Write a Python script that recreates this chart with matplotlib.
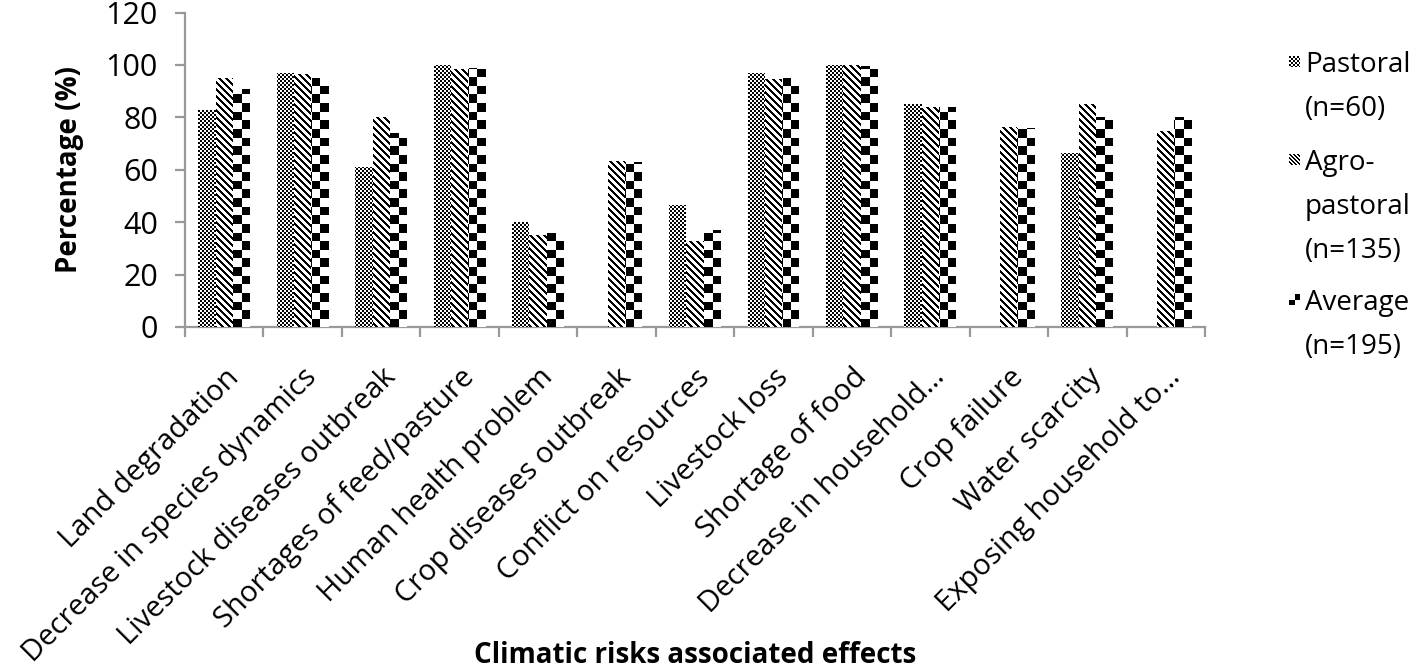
import numpy as np
import matplotlib
matplotlib.use("Agg")
import matplotlib.pyplot as plt
import matplotlib.transforms as mtransforms
from matplotlib.path import Path

plt.rcParams['font.family'] = ['Open Sans', 'DejaVu Sans']

categories = ["Land degradation", "Decrease in species dynamics",
              "Livestock diseases outbreak", "Shortages of feed/pasture",
              "Human health problem", "Crop diseases outbreak",
              "Conflict on resources", "Livestock loss", "Shortage of food",
              "Decrease in household\u2026", "Crop failure", "Water scarcity",
              "Exposing household to\u2026"]
pastoral = [83, 97, 61, 100, 40, 0, 46.7, 97, 100, 85, 0, 66.3, 0]
agro = [95, 96.5, 80, 98.5, 35, 63.5, 33, 94.5, 100, 84, 76.2, 85.2, 75]
average = [91, 95, 74, 99, 36, 63, 37, 95, 99.5, 84, 76, 80, 80.3]
series_labels = ["Pastoral\n(n=60)", "Agro-\npastoral\n(n=135)", "Average\n(n=195)"]
yticks = [0, 20, 40, 60, 80, 100, 120]

W, H = 1417, 670
FS = 20
fig = plt.figure(figsize=(W / 100, H / 100), dpi=100)
ax = fig.add_axes([185 / W, 1 - 327 / H, 1020 / W, 314.4 / H])

x = np.arange(len(categories))
bw = 0.22
b1 = ax.bar(x - bw, pastoral, bw, color='white', lw=0)
b2 = ax.bar(x, agro, bw, color='white', lw=0)
b3 = ax.bar(x + bw, average, bw, color='white', lw=0)

ax.set_xlim(-0.5, len(categories) - 0.5)
ax.set_ylim(0, 120)
ax.set_yticks(yticks)
ax.set_xticks(np.arange(-0.5, len(categories), 1))
ax.set_xticklabels([])
ax.set_xticks(x, minor=True)
ax.set_xticklabels(categories, minor=True, rotation=45, ha='right',
                   rotation_mode='anchor', fontsize=21)
shift = mtransforms.ScaledTranslation(-8 / 100, 0, fig.dpi_scale_trans)
for lbl in ax.get_xticklabels(minor=True):
    lbl.set_transform(lbl.get_transform() + shift)
gray = '#999999'
for s in ['top', 'right']:
    ax.spines[s].set_visible(False)
for s in ['left', 'bottom']:
    ax.spines[s].set_color(gray)
    ax.spines[s].set_linewidth(1.6)
ax.tick_params(axis='x', which='major', length=7.5, width=1.6, color=gray)
ax.tick_params(axis='x', which='minor', length=0, pad=26)
ax.tick_params(axis='y', length=7.5, width=1.6, color=gray, labelsize=22, pad=12)
ax.set_ylabel("Percentage (%)", fontsize=FS, fontweight='bold')
ax.yaxis.set_label_coords(-0.099, 0.5)
ax.set_xlabel("Climatic risks associated effects", fontsize=FS, fontweight='bold')
ax.xaxis.set_label_coords(0.5, -1.0)

# legend (manual)
sw = 11
first_centers = [62, 160, 300]
line_step = 44
for lab, fc in zip(series_labels, first_centers):
    for i, line in enumerate(lab.split("\n")):
        yc = fc + i * line_step
        fig.text(1305 / W, 1 - (yc + 10) / H, line, fontsize=FS,
                 va='baseline', ha='left')

fig.canvas.draw()

rows, cols = np.mgrid[0:H, 0:W]
def rgba(mask):
    im = np.full((H, W, 4), 255, dtype=np.uint8)
    im[mask, :3] = 0
    return im

pat_p = rgba(((cols // 2 + rows // 2) % 2) == 0)
pat_a = rgba(((cols - rows) % 7) < 3)
mask_avg = np.zeros((H, W), dtype=bool)
for b in b3:
    e = b.get_window_extent()
    if e.height <= 0:
        continue
    x0, x1 = e.x0, e.x1
    half = (x1 - x0) / 2
    c = ((cols - x0) // half).astype(int)
    r = (((H - rows) - e.y0) // half).astype(int)
    inside = (cols >= np.floor(x0) - 1) & (cols <= np.ceil(x1) + 1) & \
             ((H - rows) >= e.y0 - 1) & ((H - rows) <= e.y1 + 1)
    mask_avg |= inside & (((c + r) % 2) == 0)
pat_v = rgba(mask_avg)

def compound(bars):
    paths = []
    for b in bars:
        if b.get_height() > 0:
            paths.append(b.get_path().transformed(b.get_patch_transform()))
    return Path.make_compound_path(*paths)

for bars, pat in [(b1, pat_p), (b2, pat_a), (b3, pat_v)]:
    im = fig.figimage(pat, 0, 0, origin='upper')
    im.set_clip_path(compound(bars), ax.transData)

# legend swatches
r, c = np.mgrid[0:sw, 0:sw]
sw_p = np.full((sw, sw, 4), 255, np.uint8); sw_p[((c // 2 + r // 2) % 2) == 0, :3] = 0
sw_a = np.full((sw, sw, 4), 255, np.uint8); sw_a[((c - r) % 4) < 2, :3] = 0
sw_v = np.full((sw, sw, 4), 255, np.uint8); sw_v[((c // 6 + r // 6) % 2) == 1, :3] = 0
for s, fc in zip([sw_p, sw_a, sw_v], first_centers):
    top = fc - 6
    fig.figimage(s, 1289, H - top - sw, origin='upper')

fig.savefig("out.png", dpi=100)
